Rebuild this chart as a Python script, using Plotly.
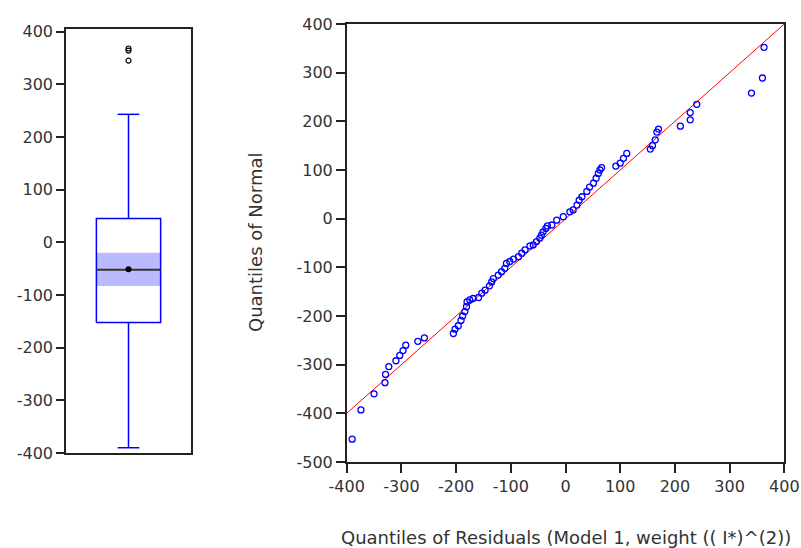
import plotly.graph_objects as go

# ---------------- data ----------------
# Box plot summary of residuals
box_stats_names = ["lower_whisker", "q1", "median", "q3", "upper_whisker"]
box_stats = [-390, -152, -52, 45, 243]
median_ci = [-83, -20]
box_mean = [-51]
box_outliers = [368, 364, 345]

# Quantile-quantile points
resid_quantiles = [-390, -374, -350, -330, -329, -323, -310, -303, -297, -292,
                   -270, -258, -205, -202, -196, -191, -188, -184, -181, -180,
                   -175, -169, -159, -153, -147, -139, -135, -132, -123, -117,
                   -111, -108, -102, -95, -86, -80, -74, -65, -59, -53,
                   -47, -44, -41, -36, -33, -25, -16, -4, 8, 14,
                   21, 25, 30, 39, 44, 51, 56, 60, 63, 66,
                   92, 100, 106, 112, 155, 159, 164, 167, 170, 210,
                   228, 228, 240, 340, 360, 363]
normal_quantiles = [-453, -393, -360, -337, -320, -304, -292, -281, -271, -260,
                    -252, -245, -236, -227, -220, -209, -200, -191, -181, -171,
                    -167, -164, -162, -153, -147, -138, -130, -123, -116, -109,
                    -102, -92, -88, -83, -78, -71, -64, -56, -54, -47,
                    -40, -34, -27, -20, -15, -13, -3, 4, 14, 18,
                    28, 38, 45, 56, 65, 73, 83, 93, 100, 105,
                    108, 114, 124, 134, 143, 150, 162, 178, 184, 190,
                    203, 218, 235, 258, 289, 352]
ref_line_x = [-400, 400]
ref_line_y = [-400, 400]

box_ticks = [-400, -300, -200, -100, 0, 100, 200, 300, 400]
box_tick_labels = ["-400", "-300", "-200", "-100", "0", "100", "200", "300", "400"]
qq_x_ticks = [-400, -300, -200, -100, 0, 100, 200, 300, 400]
qq_x_tick_labels = ["-400", "-300", "-200", "-100", "0", "100", "200", "300", "400"]
qq_y_ticks = [-500, -400, -300, -200, -100, 0, 100, 200, 300, 400]
qq_y_tick_labels = ["-500", "-400", "-300", "-200", "-100", "0", "100", "200", "300", "400"]

x_title = "Quantiles of Residuals (Model 1, weight (( I*)^(2))"
y_title = "Quantiles of Normal"

# ---------------- styles ----------------
BLUE = "#0000FF"
TXT = "#333333"
FONT = "DejaVu Sans"
HALF_W = 0.257   # box half width (x data units of left panel)
CAP_W = 0.087    # whisker cap half width

lw, q1, med, q3, uw = box_stats

fig = go.Figure()

# median CI band
fig.add_trace(go.Scatter(
    x=[-HALF_W, HALF_W, HALF_W, -HALF_W, -HALF_W],
    y=[median_ci[0], median_ci[0], median_ci[1], median_ci[1], median_ci[0]],
    mode="lines", fill="toself", fillcolor="rgb(186,186,255)",
    line=dict(width=0), xaxis="x", yaxis="y", hoverinfo="skip", showlegend=False))
# box outline
fig.add_trace(go.Scatter(
    x=[-HALF_W, HALF_W, HALF_W, -HALF_W, -HALF_W],
    y=[q1, q1, q3, q3, q1],
    mode="lines", line=dict(color=BLUE, width=1.5),
    xaxis="x", yaxis="y", showlegend=False))
# whiskers + caps
fig.add_trace(go.Scatter(
    x=[0, 0, None, -CAP_W, CAP_W, None, 0, 0, None, -CAP_W, CAP_W],
    y=[q3, uw, None, uw, uw, None, q1, lw, None, lw, lw],
    mode="lines", line=dict(color=BLUE, width=1.5),
    xaxis="x", yaxis="y", showlegend=False))
# median
fig.add_trace(go.Scatter(
    x=[-HALF_W, HALF_W], y=[med, med],
    mode="lines", line=dict(color="#333333", width=2),
    xaxis="x", yaxis="y", showlegend=False))
# mean
fig.add_trace(go.Scatter(
    x=[0], y=box_mean, mode="markers",
    marker=dict(symbol="circle", size=6, color="black"),
    xaxis="x", yaxis="y", showlegend=False))
# outliers
fig.add_trace(go.Scatter(
    x=[0] * len(box_outliers), y=box_outliers, mode="markers",
    marker=dict(symbol="circle-open", size=5, color="black", line=dict(width=1.2)),
    xaxis="x", yaxis="y", showlegend=False))

# QQ reference line
fig.add_trace(go.Scatter(
    x=ref_line_x, y=ref_line_y, mode="lines",
    line=dict(color="#FF0000", width=1),
    xaxis="x2", yaxis="y2", showlegend=False))
# QQ points
fig.add_trace(go.Scatter(
    x=resid_quantiles, y=normal_quantiles, mode="markers",
    marker=dict(symbol="circle-open", size=6, color=BLUE, line=dict(width=1.3)),
    xaxis="x2", yaxis="y2", showlegend=False))

W, H = 801, 548
axis_common = dict(showline=True, mirror=True, linecolor="#222222", linewidth=1.5,
                   showgrid=False, zeroline=False, automargin=False,
                   tickfont=dict(family=FONT, size=16, color=TXT))

fig.update_layout(
    width=W, height=H,
    margin=dict(l=0, r=0, t=0, b=0),
    paper_bgcolor="white", plot_bgcolor="white",
    xaxis=dict(domain=[66 / W, 191 / W], range=[-0.5, 0.5], showticklabels=False,
               ticks="", anchor="y", **axis_common),
    yaxis=dict(domain=[(H - 453) / H, (H - 29) / H], range=[-400, 405],
               tickvals=box_ticks, ticktext=box_tick_labels,
               ticks="outside", ticklen=8, tickwidth=1.5,
               tickcolor="#222222", anchor="x", **axis_common),
    xaxis2=dict(domain=[346.7 / W, 784.3 / W], range=[-400, 400],
                tickvals=qq_x_ticks, ticktext=qq_x_tick_labels,
                ticks="outside", ticklen=9, tickwidth=1.5,
                tickcolor="#222222", anchor="y2", **axis_common),
    yaxis2=dict(domain=[(H - 462) / H, (H - 24) / H], range=[-500, 400],
                tickvals=qq_y_ticks, ticktext=qq_y_tick_labels,
                ticks="outside", ticklen=9, tickwidth=1.5,
                tickcolor="#222222", anchor="x2", **axis_common),
    annotations=[
        dict(text=x_title, xref="paper", yref="paper", x=565.5 / W, y=(H - 537) / H,
             xanchor="center", yanchor="middle", showarrow=False,
             font=dict(family=FONT, size=18, color=TXT)),
        dict(text=y_title, xref="paper", yref="paper", x=255 / W, y=(H - 243) / H,
             xanchor="center", yanchor="middle", showarrow=False, textangle=-90,
             font=dict(family=FONT, size=18, color=TXT)),
    ],
)

fig.write_html("out.html")
